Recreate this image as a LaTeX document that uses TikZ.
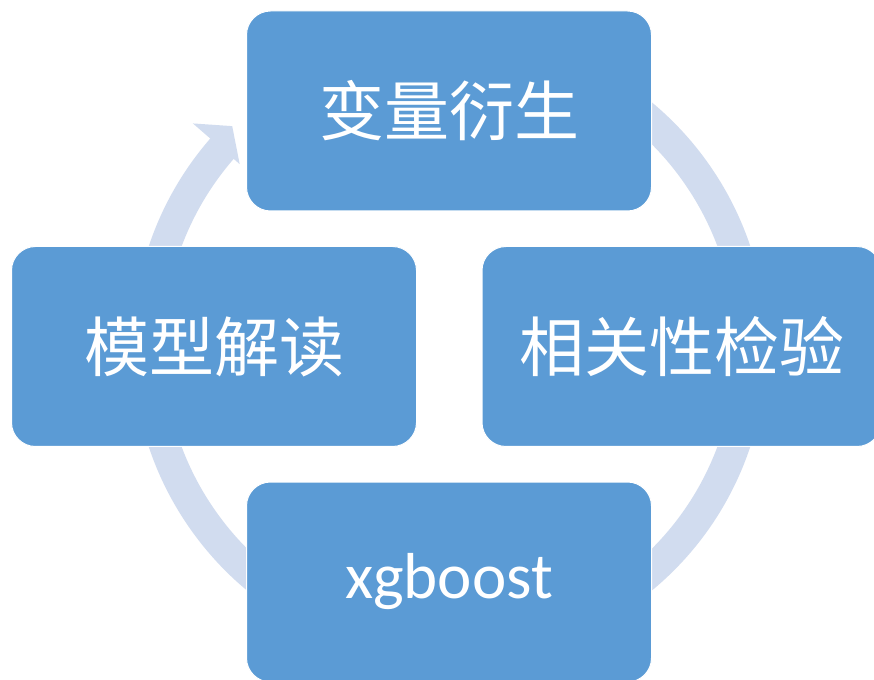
\documentclass[tikz,border=0pt]{standalone}
\usepackage{fontspec}
\setmainfont{Carlito}
\newfontfamily\cjk{Noto Sans CJK SC}
\definecolor{boxblue}{RGB}{91,155,213}
\definecolor{ringcol}{RGB}{209,220,239}
\begin{document}
\begin{tikzpicture}[x=0.75pt,y=-0.75pt,
  stage/.style={draw=white,line width=0.75pt,fill=boxblue,rounded corners=18pt,
    minimum width=303.75pt,minimum height=150pt,inner sep=0pt,text=white,
    font=\fontsize{48.75pt}{58pt}\selectfont\cjk},
  ring/.style={draw=ringcol,line width=23.25pt}]
\fill[white] (0,0) rectangle (874,680);
\useasboundingbox (0,0) rectangle (874,680);
\clip (0,0) rectangle (874,680);
\coordinate (c) at (449.5,346.5);
% circular arrow behind the boxes
\draw[ring] ([shift={(235:301.5)}]c) arc[start angle=235,end angle=581.3,radius=301.5];
\fill[ringcol] ([shift={(221:340)}]c) -- ([shift={(225.4:309.5)}]c) -- ([shift={(221:278)}]c) -- cycle;
% boxes
\node[stage] (top) at (449,111) {变量衍生};
\node[stage,minimum width=299.25pt] (right) at (681.5,346.5) {相关性检验};
\node[stage,font=\fontsize{48.75pt}{58pt}\selectfont] (bottom) at (449,582) {xgboost};
\node[stage] (left) at (214,346.5) {模型解读};
\end{tikzpicture}
\end{document}
